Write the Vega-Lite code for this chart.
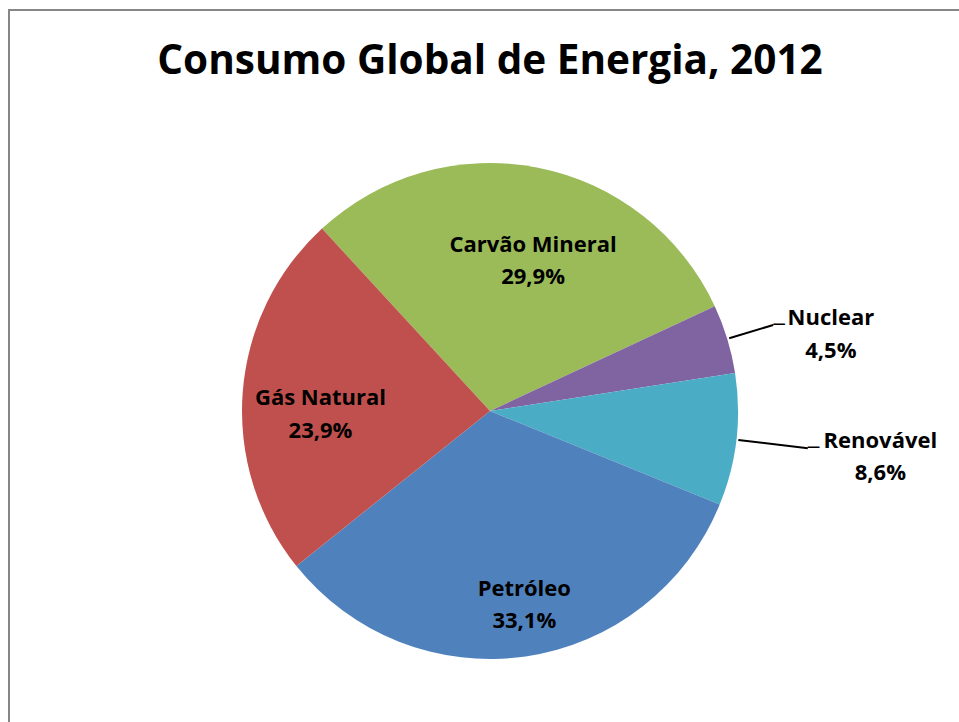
{
  "$schema": "https://vega.github.io/schema/vega-lite/v6.json",
  "autosize": {"type": "none"},
  "width": 962,
  "height": 802,
  "padding": {"left": 9, "top": 10, "right": -12, "bottom": -90},
  "background": "white",
  "view": {"stroke": "#868686", "strokeWidth": 2, "fill": "white"},
  "title": {
    "text": "Consumo Global de Energia, 2012",
    "font": "Open Sans",
    "fontSize": 40.5,
    "fontWeight": "bold",
    "color": "black",
    "baseline": "alphabetic",
    "anchor": "middle",
    "offset": -116
  },
  "data": {
    "values": [
      {"cat": "Carvão Mineral", "value": 29.9, "rotulo": "Carvão Mineral\n29,9%"},
      {"cat": "Nuclear", "value": 4.5, "rotulo": "Nuclear\n4,5%"},
      {"cat": "Renovável", "value": 8.6, "rotulo": "Renovável\n8,6%"},
      {"cat": "Petróleo", "value": 33.1, "rotulo": "Petróleo\n33,1%"},
      {"cat": "Gás Natural", "value": 23.9, "rotulo": "Gás Natural\n23,9%"}
    ]
  },
  "transform": [{"window": [{"op": "row_number", "as": "idx"}]}],
  "encoding": {
    "theta": {"field": "value", "type": "quantitative", "stack": true, "scale": {"range": [-0.7442, 5.539]}},
    "order": {"field": "idx", "type": "quantitative"},
    "detail": {"field": "cat", "type": "nominal"}
  },
  "layer": [
    {
      "mark": {"type": "arc", "radius": 248},
      "encoding": {
        "color": {
          "field": "cat",
          "type": "nominal",
          "scale": {
            "domain": ["Carvão Mineral", "Nuclear", "Renovável", "Petróleo", "Gás Natural"],
            "range": ["#9BBB59", "#8064A2", "#4BACC6", "#4F81BD", "#C0504D"]
          },
          "legend": null
        }
      }
    },
    {
      "mark": {"type": "arc", "radius": 296, "radius2": 250, "padAngle": 3, "fill": "transparent", "stroke": "black", "strokeWidth": 2},
      "encoding": {"strokeOpacity": {"condition": {"test": "datum.cat === 'Nuclear'", "value": 1}, "value": 0}}
    },
    {
      "mark": {"type": "arc", "radius": 320, "radius2": 250, "padAngle": 3, "fill": "transparent", "stroke": "black", "strokeWidth": 2},
      "encoding": {"strokeOpacity": {"condition": {"test": "datum.cat === 'Renovável'", "value": 1}, "value": 0}}
    },
    {
      "mark": {"type": "text", "text": "─", "font": "DejaVu Sans", "fontSize": 19, "radius": 296, "align": "left", "baseline": "middle", "color": "black"},
      "encoding": {"opacity": {"condition": {"test": "datum.cat === 'Nuclear'", "value": 1}, "value": 0}}
    },
    {
      "mark": {"type": "text", "text": "─", "font": "DejaVu Sans", "fontSize": 19, "radius": 320, "align": "left", "baseline": "middle", "color": "black"},
      "encoding": {"opacity": {"condition": {"test": "datum.cat === 'Renovável'", "value": 1}, "value": 0}}
    },
    {
      "mark": {"type": "text", "radius": 155, "dx": 13, "dy": -7, "font": "Open Sans", "fontSize": 22, "fontWeight": "bold", "lineBreak": "\n", "lineHeight": 32.5, "align": "center", "baseline": "alphabetic", "color": "black"},
      "encoding": {"text": {"field": "rotulo"}, "opacity": {"condition": {"test": "datum.cat === 'Carvão Mineral'", "value": 1}, "value": 0}}
    },
    {
      "mark": {"type": "text", "radius": 170, "dx": 0, "dy": 7, "font": "Open Sans", "fontSize": 22, "fontWeight": "bold", "lineBreak": "\n", "lineHeight": 32.5, "align": "center", "baseline": "alphabetic", "color": "black"},
      "encoding": {"text": {"field": "rotulo"}, "opacity": {"condition": {"test": "datum.cat === 'Gás Natural'", "value": 1}, "value": 0}}
    },
    {
      "mark": {"type": "text", "radius": 197, "dx": 6, "dy": -10, "font": "Open Sans", "fontSize": 22, "fontWeight": "bold", "lineBreak": "\n", "lineHeight": 32.5, "align": "center", "baseline": "alphabetic", "color": "black"},
      "encoding": {"text": {"field": "rotulo"}, "opacity": {"condition": {"test": "datum.cat === 'Petróleo'", "value": 1}, "value": 0}}
    },
    {
      "mark": {"type": "text", "radius": 350, "dx": 6, "dy": 16, "font": "Open Sans", "fontSize": 22, "fontWeight": "bold", "lineBreak": "\n", "lineHeight": 32.5, "align": "center", "baseline": "alphabetic", "color": "black"},
      "encoding": {"text": {"field": "rotulo"}, "opacity": {"condition": {"test": "datum.cat === 'Nuclear'", "value": 1}, "value": 0}}
    },
    {
      "mark": {"type": "text", "radius": 393, "dx": 0, "dy": -9, "font": "Open Sans", "fontSize": 22, "fontWeight": "bold", "lineBreak": "\n", "lineHeight": 32.5, "align": "center", "baseline": "alphabetic", "color": "black"},
      "encoding": {"text": {"field": "rotulo"}, "opacity": {"condition": {"test": "datum.cat === 'Renovável'", "value": 1}, "value": 0}}
    }
  ]
}
